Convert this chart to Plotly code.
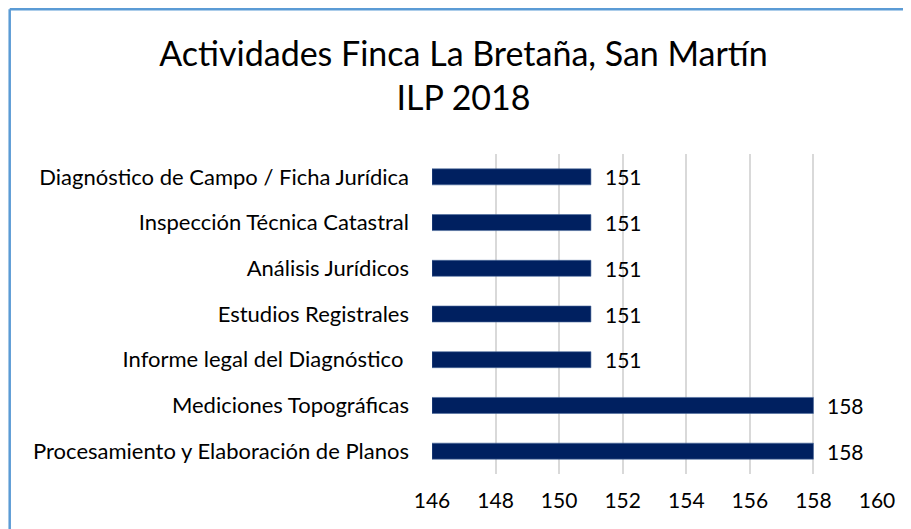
import plotly.graph_objects as go

actividades = [
    "Diagnóstico de Campo / Ficha Jurídica",
    "Inspección Técnica Catastral",
    "Análisis Jurídicos",
    "Estudios Registrales",
    "Informe legal del Diagnóstico\u00a0",
    "Mediciones Topográficas",
    "Procesamiento y Elaboración de Planos",
]
valores = [151, 151, 151, 151, 151, 158, 158]
ticks_x = [146, 148, 150, 152, 154, 156, 158, 160]

FONT = "Lato"

fig = go.Figure()
fig.add_trace(go.Bar(
    y=actividades,
    x=[v - ticks_x[0] for v in valores],
    base=ticks_x[0],
    orientation="h",
    marker=dict(color="#002060", line=dict(color="#4a6a9c", width=0.6)),
    hoverinfo="skip",
))

for cat, v in zip(actividades, valores):
    fig.add_annotation(x=v, y=cat, text=str(v), showarrow=False,
                       xanchor="left", xshift=12,
                       font=dict(family=FONT, size=21, color="#000000"))

# outer chart border: only top and left edges are visible
borde = dict(color="#5B9BD5", width=2.5)
fig.add_shape(type="line", xref="paper", yref="paper",
              x0=-0.949, x1=1.6, y0=1.452, y1=1.452, line=borde, layer="below")
fig.add_shape(type="line", xref="paper", yref="paper",
              x0=-0.949, x1=-0.949, y0=-0.6, y1=1.452, line=borde, layer="below")

fig.update_layout(
    width=911, height=529,
    margin=dict(l=424, r=42, t=146, b=63),
    paper_bgcolor="white", plot_bgcolor="white",
    bargap=0.65,
    showlegend=False,
    title=dict(
        text="Actividades Finca La Bretaña, San Martín<br>ILP 2018",
        x=0.5, xanchor="center", xref="container",
        y=0.89, yanchor="top",
        font=dict(family=FONT, size=34, color="#000000"),
    ),
    font=dict(family=FONT, color="#000000"),
)
fig.update_xaxes(range=[146, 160], tickvals=ticks_x, showgrid=True,
                 gridcolor="#d9d9d9", gridwidth=1.5, zeroline=False,
                 showline=False, tickfont=dict(size=21),
                 ticklabelstandoff=12, fixedrange=True)
fig.update_yaxes(autorange="reversed", showgrid=False, showline=False,
                 tickfont=dict(size=22), ticklabelstandoff=22,
                 fixedrange=True)

fig.write_html("out.html")
